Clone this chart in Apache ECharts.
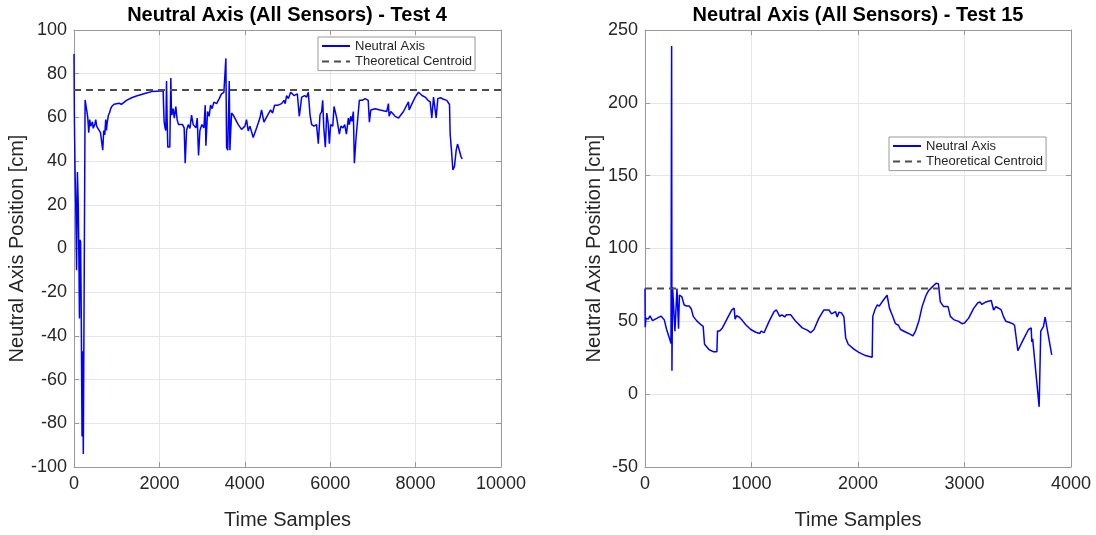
<!DOCTYPE html>
<html>
<head>
    <meta charset="utf-8">
</head>
<body style="margin: 0">
    <div id="container" style="width: 1096px; height: 535px"></div>
    <script src="https://cdn.jsdelivr.net/npm/echarts@6/dist/echarts.min.js"></script>
    <script type="text/javascript">
        // [time sample, neutral axis position (cm)]
        var test4Points = [
            [0, 89], [10, 58], [25, 35], [40, 21], [60, -10], [80, 35], [100, 20], [115, -5], [128, -32], [140, 4],
            [155, 3], [170, -30], [188, -86], [200, -47], [218, -94], [260, 68],
            [275, 68], [300, 63], [322, 60], [345, 53], [368, 59], [392, 56], [415, 57], [431, 58], [450, 55], [469, 56],
            [490, 57], [509, 59], [530, 56], [560, 55], [586, 55], [620, 53], [649, 53], [673, 45], [696, 54], [720, 52],
            [743, 59], [760, 54], [780, 58], [806, 61], [830, 62], [860, 64], [884, 65], [938, 66], [1055, 66.5], [1111, 66],
            [1228, 67.8], [1350, 69], [1462, 69.8], [1580, 70.5], [1697, 71.2], [1820, 71.8], [1932, 72], [2088, 72.2],
            [2100, 64], [2111, 58], [2135, 55], [2150, 54], [2167, 76.7], [2180, 60], [2197, 46.4], [2244, 46.4], [2268, 78],
            [2280, 65], [2291, 61], [2322, 64], [2350, 59.7], [2385, 65], [2415, 59], [2448, 56.7], [2490, 56.5], [2542, 56.7],
            [2580, 55.2], [2604, 39], [2636, 54], [2675, 56.7], [2715, 55], [2753, 61], [2792, 56.7], [2855, 55.2], [2886, 59.7],
            [2917, 42.6], [2949, 54], [2995, 56.7], [3042, 55.2], [3073, 65.6], [3089, 47], [3128, 62.7], [3165, 60.5],
            [3198, 65.6], [3235, 64], [3276, 67], [3340, 66.3], [3401, 68.6], [3456, 70.8], [3510, 71.5], [3540, 71],
            [3557, 87], [3573, 46.4], [3600, 45], [3620, 62.7], [3636, 76.7], [3651, 45], [3690, 62], [3730, 61], [3768, 60.5],
            [3846, 56.7], [3924, 54.5], [3965, 54], [4002, 56], [4041, 59], [4080, 53.8], [4120, 56], [4197, 50.8], [4276, 55.2],
            [4354, 59.7], [4393, 63.4], [4448, 57.8], [4520, 60.5], [4604, 63.4], [4650, 62], [4698, 65.6], [4780, 65.6],
            [4862, 66.3], [4917, 67.8], [4945, 66.3], [4980, 70], [5020, 68.6], [5074, 71.5], [5110, 72], [5152, 70],
            [5230, 70.8], [5276, 60.5], [5332, 69.3], [5400, 70], [5450, 69.3], [5487, 71.5], [5527, 61.2], [5566, 56.7],
            [5620, 56], [5680, 56.7], [5722, 48], [5761, 61.2], [5800, 62.7], [5824, 67.8], [5850, 55.2], [5886, 46.4],
            [5920, 62], [5950, 57.8], [5980, 48], [6010, 56.7], [6060, 56], [6090, 65], [6153, 59.7], [6215, 52.3], [6250, 56],
            [6300, 55.2], [6340, 56.7], [6380, 52.3], [6425, 59.7], [6450, 56.7], [6480, 60.5], [6510, 58.2], [6542, 62.7],
            [6566, 39], [6606, 50.8], [6640, 51.5], [6683, 67.8], [6750, 67.8], [6817, 68.6], [6890, 67.8], [6918, 57.8],
            [6950, 63.4], [7052, 64], [7169, 63.4], [7325, 62.7], [7364, 66.3], [7380, 60.5], [7420, 62.7], [7521, 60.5],
            [7600, 59.7], [7716, 62.7], [7833, 67.1], [7850, 63.4], [7900, 65.6], [7990, 69.3], [8067, 71.5], [8150, 70],
            [8224, 69.3], [8290, 67.8], [8341, 67.1], [8380, 59.7], [8420, 69.3], [8450, 68.6], [8482, 59.7], [8520, 68.6],
            [8580, 69], [8654, 68.3], [8730, 67.8], [8794, 65.9], [8810, 52.3], [8840, 45], [8873, 36], [8910, 37.5],
            [8951, 45], [8982, 47.8], [9030, 44.5], [9061, 42.2], [9092, 41]
        ];

        var test15Points = [
            [0, 72.5], [2, 46], [9, 52.2], [30, 51.5], [47, 53.8], [71, 50.5], [110, 52], [150, 53.6], [181, 51], [203, 44.4],
            [228, 38.8], [244, 34.8], [250, 239], [253, 16], [259, 73.5], [275, 72.5], [281, 43.3], [292, 43.3], [300, 72.5],
            [310, 72.3], [315, 45], [319, 45], [323, 68], [345, 67], [368, 61.2], [390, 60.5], [415, 60.5], [435, 58.5],
            [453, 53.4], [484, 50.5], [525, 47.7], [546, 46.6], [559, 34.3], [575, 33], [603, 30.5], [640, 29.2], [675, 29.2],
            [681, 43.3], [700, 43.3], [727, 45.5], [774, 52.2], [815, 57.8], [837, 59], [846, 51.5], [860, 53.8], [884, 53],
            [915, 50.5], [946, 47.7], [993, 44.4], [1040, 42.5], [1078, 41.7], [1090, 43.3], [1118, 42.2], [1165, 50],
            [1212, 56.7], [1234, 57.8], [1250, 57.4], [1265, 53.4], [1285, 54.5], [1312, 53], [1328, 54.5], [1368, 54.5],
            [1415, 50], [1477, 45.5], [1524, 44], [1555, 42.2], [1587, 44.4], [1633, 52.2], [1680, 57.8], [1727, 57.8],
            [1752, 55.1], [1770, 56], [1789, 56.7], [1805, 53], [1821, 56.3], [1845, 55.8], [1868, 53], [1884, 38.8],
            [1895, 37.7], [1908, 34.3], [1925, 35], [1961, 30.9], [2008, 28.7], [2070, 26.5], [2133, 25.3], [2139, 53.4],
            [2158, 57.8], [2180, 61.2], [2200, 60.5], [2227, 63.4], [2273, 67.9], [2285, 67.9], [2296, 58.9], [2320, 54.5],
            [2352, 48.4], [2380, 47.3], [2399, 44.4], [2446, 42.7], [2493, 41], [2515, 40], [2540, 43.3], [2571, 50],
            [2602, 60.1], [2639, 67.9], [2664, 71.2], [2680, 70.5], [2695, 73.5], [2733, 76.2], [2755, 75.8], [2773, 63.4],
            [2804, 60.1], [2820, 61.2], [2845, 60.1], [2867, 53.4], [2898, 51.2], [2945, 50], [2976, 48.4], [3000, 48.8],
            [3039, 52.2], [3086, 58.9], [3126, 62.8], [3145, 63.3], [3163, 61.6], [3201, 63.3], [3225, 63.8], [3240, 62.5],
            [3251, 64.3], [3273, 57.8], [3295, 60], [3320, 59], [3345, 57.8], [3365, 53.4], [3388, 50], [3430, 49],
            [3451, 48.4], [3470, 47.3], [3485, 48.4], [3501, 29.8], [3515, 30.3], [3538, 35.4], [3570, 40], [3601, 44.4],
            [3626, 45.5], [3632, 35.9], [3640, 38], [3701, -8.7], [3716, 43.3], [3742, 46.6], [3757, 52.9], [3772, 52.2],
            [3819, 26.9]
        ];

        var centroid = 72.5;
        var xRange4 = [0, 10000];
        var xRange15 = [0, 4000];

        var font = 'Liberation Sans, Arial, Helvetica, sans-serif';
        var boxColor = '#9a9a9a';
        var textColor = '#262626';

        function plain(v) {
            return String(v);   // no thousands separators
        }

        function xAxisOf(grid, range, step, top) {
            return {
                type: 'value', gridIndex: grid, min: range[0], max: range[1], interval: step,
                position: top ? 'top' : 'bottom',
                name: top ? '' : 'Time Samples', nameLocation: 'middle', nameGap: 43,
                nameTextStyle: { fontSize: 20, color: textColor, fontFamily: font },
                axisLine: { show: true, onZero: false, lineStyle: { color: boxColor } },
                axisTick: { show: true, inside: true, length: 5, lineStyle: { color: boxColor } },
                axisLabel: { show: !top, fontSize: 18, color: textColor, fontFamily: font, margin: 8, formatter: plain },
                splitLine: { show: !top, lineStyle: { color: '#e6e6e6' } }
            };
        }

        function yAxisOf(grid, min, max, step, gap, right) {
            return {
                type: 'value', gridIndex: grid, min: min, max: max, interval: step,
                position: right ? 'right' : 'left',
                name: right ? '' : 'Neutral Axis Position [cm]', nameLocation: 'middle', nameGap: gap,
                nameTextStyle: { fontSize: 20, color: textColor, fontFamily: font },
                axisLine: { show: true, onZero: false, lineStyle: { color: boxColor } },
                axisTick: { show: true, inside: true, length: 5, lineStyle: { color: boxColor } },
                axisLabel: { show: !right, fontSize: 18, color: textColor, fontFamily: font, margin: 7, formatter: plain },
                splitLine: { show: !right, lineStyle: { color: '#e6e6e6' } }
            };
        }

        function legendAt(left, top) {
            return {
                left: left, top: top, orient: 'vertical',
                padding: [2.5, 3], itemGap: 2.6, itemWidth: 28, itemHeight: 14,
                backgroundColor: '#fff', borderColor: boxColor, borderWidth: 1, borderRadius: 0,
                itemStyle: { opacity: 0 },
                textStyle: { fontSize: 13, color: textColor, fontFamily: font },
                data: ['Neutral Axis', 'Theoretical Centroid']
            };
        }

        var dom = document.getElementById('container');
        var myChart = echarts.init(dom);

        var option = {
            animation: false,
            backgroundColor: '#fff',
            title: [
                { text: 'Neutral Axis (All Sensors) - Test 4', left: 287, top: 5, padding: 0, textAlign: 'center',
                  textStyle: { fontSize: 20, fontWeight: 'bold', color: '#000', fontFamily: font } },
                { text: 'Neutral Axis (All Sensors) - Test 15', left: 858, top: 5, padding: 0, textAlign: 'center',
                  textStyle: { fontSize: 20, fontWeight: 'bold', color: '#000', fontFamily: font } }
            ],
            legend: [legendAt(318, 37), legendAt(889, 137)],
            grid: [
                { left: 74, top: 30, width: 427, height: 447 },
                { left: 645, top: 30, width: 426, height: 447 }
            ],
            xAxis: [
                xAxisOf(0, xRange4, 2000, false),
                xAxisOf(1, xRange15, 1000, false),
                xAxisOf(0, xRange4, 2000, true),
                xAxisOf(1, xRange15, 1000, true)
            ],
            yAxis: [
                yAxisOf(0, -100, 100, 20, 47, false),
                yAxisOf(1, -50, 250, 50, 40, false),
                yAxisOf(0, -100, 100, 20, 47, true),
                yAxisOf(1, -50, 250, 50, 40, true)
            ],
            series: [
                {
                    name: 'Neutral Axis', type: 'line', xAxisIndex: 0, yAxisIndex: 0,
                    data: test4Points, symbol: 'none', showSymbol: false,
                    lineStyle: { color: '#0000ff', width: 1.5 }, itemStyle: { color: '#0000ff' }
                },
                {
                    name: 'Theoretical Centroid', type: 'line', xAxisIndex: 0, yAxisIndex: 0,
                    data: [[xRange4[0], centroid], [xRange4[1], centroid]], symbol: 'none', showSymbol: false,
                    lineStyle: { color: '#4d4d4d', width: 2, type: [7, 5] }, itemStyle: { color: '#4d4d4d' }
                },
                {
                    name: 'Neutral Axis', type: 'line', xAxisIndex: 1, yAxisIndex: 1,
                    data: test15Points, symbol: 'none', showSymbol: false,
                    lineStyle: { color: '#0000ff', width: 1.5 }, itemStyle: { color: '#0000ff' }
                },
                {
                    name: 'Theoretical Centroid', type: 'line', xAxisIndex: 1, yAxisIndex: 1,
                    data: [[xRange15[0], centroid], [xRange15[1], centroid]], symbol: 'none', showSymbol: false,
                    lineStyle: { color: '#4d4d4d', width: 2, type: [7, 5] }, itemStyle: { color: '#4d4d4d' }
                }
            ]
        };

        myChart.setOption(option);
    </script>
</body>
</html>
